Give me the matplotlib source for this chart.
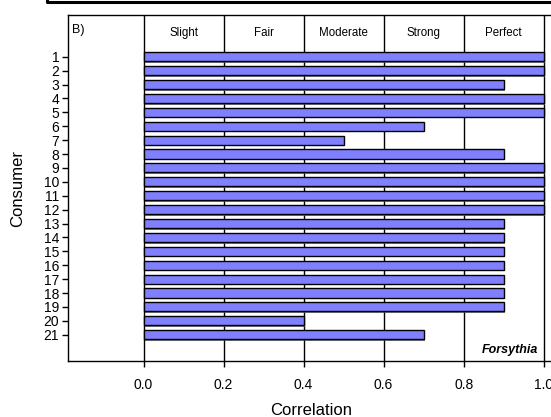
import matplotlib
matplotlib.use("Agg")
import matplotlib.pyplot as plt
import matplotlib.patheffects as pe
from matplotlib.lines import Line2D

plt.rcParams['font.family'] = ['Liberation Sans', 'DejaVu Sans']

consumers = [str(i) for i in range(1, 22)]
correlation = [1.0, 1.0, 0.9, 1.0, 1.0, 0.7, 0.5, 0.9, 1.0, 1.0, 1.0, 1.0,
               0.9, 0.9, 0.9, 0.9, 0.9, 0.9, 0.9, 0.4, 0.7]
bands = ['Slight', 'Fair', 'Moderate', 'Strong', 'Perfect']
band_edges = [0.0, 0.2, 0.4, 0.6, 0.8, 1.0]
xticks = [0.0, 0.2, 0.4, 0.6, 0.8, 1.0]

fig = plt.figure(figsize=(5.51, 4.17), dpi=100)
# axes runs past the right edge, as in the cropped original
ax = fig.add_axes([67.5 / 551, 0.134, 0.886, 0.830])

ypos = list(range(1, len(consumers) + 1))
bars = ax.barh(ypos, correlation, height=0.65, color='#8080ff',
               edgecolor='black', linewidth=1.0, zorder=3)
for b in bars:
    b.set_path_effects([pe.SimplePatchShadow(offset=(1.2, -1.2), shadow_rgbFace='#555555', alpha=0.8),
                        pe.Normal()])

for e in band_edges:
    ax.axvline(e, color='black', linewidth=1.0, zorder=2)

for i, name in enumerate(bands):
    ax.text((band_edges[i] + band_edges[i + 1]) / 2, -0.72, name,
            ha='center', va='center', fontsize=8.3)

ax.text(-0.18, -0.9, 'B)', ha='left', va='center', fontsize=9)
ax.text(0.985, 22.1, 'Forsythia', ha='right', va='center', fontsize=9,
        fontweight='bold', style='italic')

ax.set_xlim(-0.19, 1.03)
ax.set_ylim(22.9, -2.0)
ax.set_yticks(ypos)
ax.set_yticklabels(consumers)
ax.set_xticks(xticks)
ax.set_xticklabels(['%.1f' % t for t in xticks])
ax.tick_params(axis='y', length=4, width=1, labelsize=10, pad=2)
ax.tick_params(axis='x', length=4, width=1, labelsize=10, pad=8)
ax.set_xlabel('Correlation', fontsize=12, labelpad=8)
ax.set_ylabel('Consumer', fontsize=12, labelpad=13)
for s in ax.spines.values():
    s.set_linewidth(1.0)

# edge of the panel above, cut off by the crop
fig.add_artist(Line2D([47 / 551, 47 / 551, 1.0], [1.0, 0.995, 0.995], color='black',
                      linewidth=2.2, transform=fig.transFigure))

fig.savefig('out.png', dpi=100)
